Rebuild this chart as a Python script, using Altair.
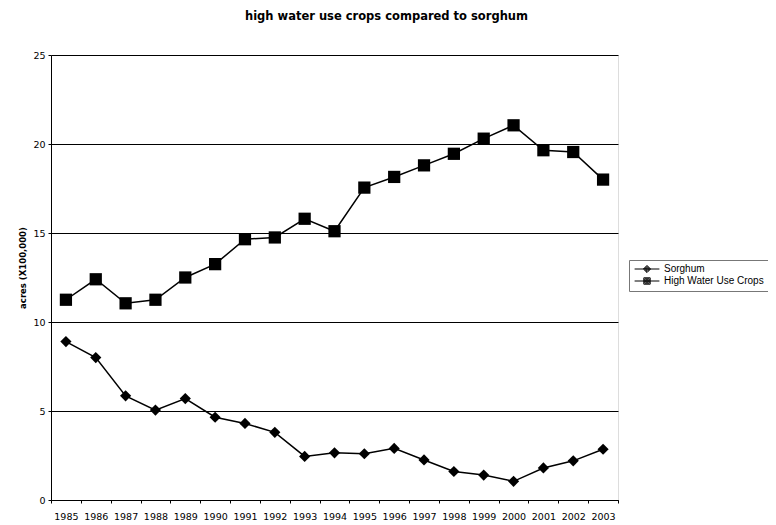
import altair as alt
import pandas as pd

years = [str(y) for y in range(1985, 2004)]
sorghum = [8.9, 8.0, 5.85, 5.05, 5.7, 4.65, 4.3, 3.8, 2.45, 2.65, 2.6, 2.9, 2.25,
           1.6, 1.4, 1.05, 1.8, 2.2, 2.85]
high_water = [11.25, 12.4, 11.05, 11.25, 12.5, 13.25, 14.65, 14.75, 15.8, 15.1,
              17.55, 18.15, 18.8, 19.45, 20.3, 21.05, 19.65, 19.55, 18.0]
series_names = ["Sorghum", "High Water Use Crops"]

rows = []
for i, y in enumerate(years):
    rows.append({"year": y, "series": series_names[0], "value": sorghum[i]})
    rows.append({"year": y, "series": series_names[1], "value": high_water[i]})
df = pd.DataFrame(rows)

FONT = "DejaVu Sans"
LFONT = "Liberation Sans"

x_enc = alt.X("year:N", sort=years,
              scale=alt.Scale(type="band", paddingInner=0, paddingOuter=0),
              axis=alt.Axis(title=None, labelAngle=0, labelFont=FONT, labelFontSize=9.5,
                            labelColor="black", domainColor="black", tickColor="black",
                            tickBand="extent", tickSize=3, labelPadding=8, grid=False))
y_enc = alt.Y("value:Q", scale=alt.Scale(domain=[0, 25], nice=False),
              axis=alt.Axis(title="acres (X100,000)", values=[0, 5, 10, 15, 20, 25],
                            titleFont=FONT, titleFontSize=8.5, titleFontWeight="bold",
                            titleColor="black", titleX=-24, titleY=212.5,
                            titleAngle=270, titleAlign="center", titleBaseline="bottom",
                            labelFont=FONT, labelFontSize=9.5, labelColor="black",
                            domainColor="black", tickColor="black", tickSize=3,
                            labelPadding=3, grid=True, gridColor="black",
                            gridWidth=1))

base = alt.Chart(df)

lines = base.mark_line(color="black", strokeWidth=1.5).encode(
    x=x_enc, y=y_enc, detail="series:N")

points = base.mark_point(filled=True, color="black", opacity=1).encode(
    x=x_enc, y=y_enc,
    shape=alt.Shape("series:N",
                    scale=alt.Scale(domain=series_names, range=["diamond", "square"]),
                    legend=None),
    size=alt.Size("series:N",
                  scale=alt.Scale(domain=series_names, range=[125, 150]),
                  legend=None))

diamond_sym = ("M-3.1,0H3.1"
               "M0,-0.9L0.9,0L0,0.9L-0.9,0Z"
               "M0,-0.65L0.65,0L0,0.65L-0.65,0Z"
               "M0,-0.4L0.4,0L0,0.4L-0.4,0Z"
               "M0,-0.15L0.15,0L0,0.15L-0.15,0Z")
square_sym = ("M-3.1,0H3.1"
              "M-0.8,-0.8H0.8V0.8H-0.8Z"
              "M-0.55,-0.55H0.55V0.55H-0.55Z"
              "M-0.3,-0.3H0.3V0.3H-0.3Z"
              "M-0.08,-0.08H0.08V0.08H-0.08Z")

legend_layer = base.transform_filter("false").transform_calculate(
    lg="datum.series").mark_point(
    filled=False, color="black", strokeWidth=1, size=64, opacity=1).encode(
    x=x_enc, y=y_enc,
    shape=alt.Shape("lg:N",
                    scale=alt.Scale(domain=series_names,
                                    range=[diamond_sym, square_sym]),
                    legend=alt.Legend(title=None, orient="none", legendX=578,
                                      legendY=205, symbolSize=64,
                                      symbolStrokeWidth=1,
                                      symbolStrokeColor="black", symbolOffset=9,
                                      labelFont=LFONT, labelFontSize=10,
                                      labelColor="black", labelOffset=12,
                                      rowPadding=0, padding=4,
                                      strokeColor="#777777", fillColor="white")))

chart = alt.layer(lines, points, legend_layer).resolve_scale(
    shape="independent", size="independent").properties(
    width=567, height=445,
    title=alt.TitleParams("high water use crops compared to sorghum",
                          font=FONT, fontSize=11.5, fontWeight="bold", color="black",
                          anchor="middle", offset=28, dx=52),
    autosize=alt.AutoSizeParams(type="none"),
    padding={"left": 43, "top": 47, "right": 150, "bottom": 20},
).configure_view(stroke="#555555", strokeWidth=1).configure(background="white")

chart.save("out.html", embed_options={"renderer": "svg", "actions": False})
